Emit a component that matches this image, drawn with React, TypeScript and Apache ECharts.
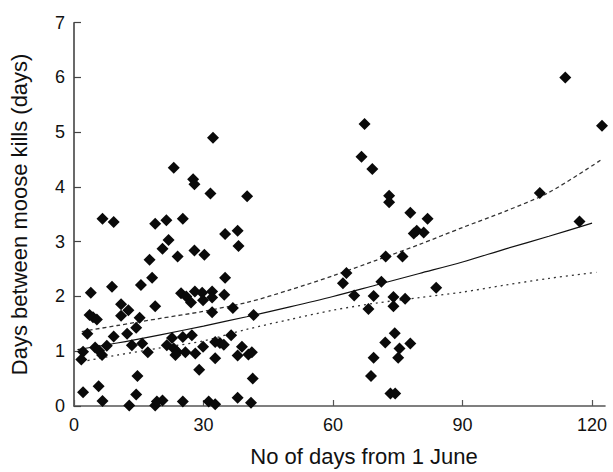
import React, { useEffect, useRef } from "react";
import * as echarts from "echarts";

// Scatter observations: day from 1 June, days between kills
const obsX = [
  32.2, 23.1, 27.6, 27.9, 31.6, 40.1,
  6.6, 9.2, 18.8, 21.4, 25.2, 37.9, 35.0,
  21.9, 20.5, 38.1, 27.9, 24.0, 30.2, 17.5,
  18.1, 15.5, 8.8, 3.9, 35.0,
  24.8, 26.0, 27.1, 28.0, 29.7, 29.9, 32.0, 32.0, 34.8, 32.0,
  36.8, 41.6, 18.8, 10.9, 12.6, 10.9,
  3.6, 4.4, 5.3, 15.2,
  3.1, 9.2, 12.3, 14.4, 15.8, 17.1, 13.4, 7.6,
  4.9, 5.8, 6.5, 2.1, 1.7,
  22.7, 21.5, 23.1, 23.9, 23.5, 25.2, 25.8, 27.3, 28.1, 29.9,
  32.7, 33.8, 34.7, 32.7, 36.4,
  37.9, 38.9, 40.4, 41.2,
  29.0, 14.7, 2.1, 5.7, 14.4, 41.4,
  6.6, 12.8, 18.8, 19.2, 20.5, 25.2, 31.2, 32.7, 37.9, 41.0,
  67.3, 66.6, 69.1, 73.0, 73.0, 77.9, 81.9, 78.7, 79.4, 81.0,
  72.2, 76.1, 63.1, 62.3, 71.2, 83.9, 64.9, 69.4, 74.0, 76.7,
  74.0, 68.2, 74.3, 72.1, 77.9, 75.4, 69.4, 75.1, 68.8, 73.3, 74.4,
  113.8, 122.3, 107.9, 117.1,
];
const obsY = [
  4.90, 4.35, 4.14, 4.05, 3.88, 3.83,
  3.42, 3.36, 3.33, 3.39, 3.42, 3.20, 3.14,
  3.03, 2.87, 2.92, 2.84, 2.73, 2.76, 2.67,
  2.34, 2.21, 2.18, 2.07, 2.34,
  2.06, 2.00, 1.89, 2.09, 2.07, 1.93, 2.09, 1.98, 2.03, 1.71,
  1.79, 1.66, 1.82, 1.86, 1.75, 1.65,
  1.66, 1.62, 1.58, 1.61,
  1.32, 1.27, 1.32, 1.43, 1.14, 0.98, 1.11, 1.10,
  1.07, 1.01, 0.93, 0.99, 0.85,
  1.24, 1.11, 1.05, 0.99, 0.93, 1.26, 0.98, 1.29, 0.96, 1.08,
  1.17, 1.15, 1.12, 0.87, 1.29,
  0.92, 1.08, 0.94, 0.98,
  0.66, 0.55, 0.25, 0.36, 0.21, 0.50,
  0.09, 0.01, 0.01, 0.08, 0.10, 0.08, 0.08, 0.03, 0.15, 0.06,
  5.15, 4.55, 4.33, 3.84, 3.72, 3.53, 3.42, 3.15, 3.20, 3.17,
  2.73, 2.73, 2.43, 2.24, 2.27, 2.16, 2.02, 2.01, 1.99, 1.96,
  1.82, 1.77, 1.33, 1.16, 1.14, 1.05, 0.88, 0.88, 0.55, 0.23, 0.23,
  6.00, 5.12, 3.89, 3.37,
];

// Fitted curve and confidence limits
const fitX = [0.8, 10, 20, 30, 40, 50, 60, 70, 80, 90, 100, 110, 120];
const fitY = [1.03, 1.15, 1.30, 1.46, 1.63, 1.81, 2.00, 2.21, 2.42, 2.63, 2.87, 3.10, 3.34];
const upperX = [1.8, 10, 20, 29.3, 40, 50, 60, 70, 80, 90, 100, 110, 122];
const upperY = [1.36, 1.47, 1.60, 1.72, 1.89, 2.12, 2.38, 2.66, 2.95, 3.26, 3.56, 3.90, 4.49];
const lowerX = [1.8, 10, 20, 30, 40, 50, 60, 70, 80, 90, 100, 110, 121];
const lowerY = [0.81, 0.93, 1.06, 1.19, 1.40, 1.58, 1.75, 1.88, 1.98, 2.08, 2.21, 2.33, 2.44];

const xTicks = [0, 30, 60, 90, 120];
const yTicks = [0, 1, 2, 3, 4, 5, 6, 7];

const zip = (xs: number[], ys: number[]) => xs.map((x, i) => [x, ys[i]]);

export default function App() {
  const ref = useRef<HTMLDivElement>(null);
  useEffect(() => {
    if (!ref.current) return;
    const chart = echarts.init(ref.current, null, { renderer: "svg" });
    const font = "Liberation Sans, Arial, Helvetica, sans-serif";
    chart.setOption({
      animation: false,
      backgroundColor: "#ffffff",
      grid: { left: 74, right: 8, top: 22.7, bottom: 60.3, containLabel: false },
      xAxis: {
        type: "value",
        min: 0,
        max: 123,
        interval: 30,
        name: "No of days from 1 June",
        nameLocation: "middle",
        nameGap: 39,
        nameTextStyle: { fontFamily: font, fontSize: 22, color: "#111", padding: [0, 0, 0, 49] },
        axisLine: { show: true, lineStyle: { color: "#555", width: 1.6 } },
        axisTick: { show: true, inside: true, length: 6, customValues: xTicks, lineStyle: { color: "#555", width: 1.2 } },
        axisLabel: { customValues: xTicks, fontFamily: font, fontSize: 18, color: "#111", margin: 10 },
        splitLine: { show: false },
      },
      yAxis: {
        type: "value",
        min: 0,
        max: 7,
        interval: 1,
        name: "Days between moose kills (days)",
        nameLocation: "middle",
        nameGap: 44,
        nameTextStyle: { fontFamily: font, fontSize: 22, color: "#111" },
        axisLine: { show: true, lineStyle: { color: "#444", width: 1.6 } },
        axisTick: { show: true, inside: true, length: 7, customValues: yTicks, lineStyle: { color: "#444", width: 1.2 } },
        axisLabel: { customValues: yTicks, fontFamily: font, fontSize: 18, color: "#111", margin: 9 },
        splitLine: { show: false },
      },
      series: [
        {
          type: "line",
          data: zip(upperX, upperY),
          showSymbol: false,
          smooth: 0.3,
          lineStyle: { color: "#333", width: 1.3, type: [4, 3] },
          z: 1,
        },
        {
          type: "line",
          data: zip(lowerX, lowerY),
          showSymbol: false,
          smooth: 0.3,
          lineStyle: { color: "#333", width: 1.3, type: [2, 4] },
          z: 1,
        },
        {
          type: "line",
          data: zip(fitX, fitY),
          showSymbol: false,
          smooth: 0.3,
          lineStyle: { color: "#111", width: 1.2 },
          z: 1,
        },
        {
          type: "scatter",
          data: zip(obsX, obsY),
          symbol: "diamond",
          symbolSize: [12, 12],
          itemStyle: { color: "#0a0a0a", opacity: 1 },
          z: 3,
        },
      ],
    });
    return () => chart.dispose();
  }, []);
  return (
    <div
      ref={ref}
      style={{ position: "fixed", left: 0, top: 0, width: 613, height: 472 }}
    />
  );
}
